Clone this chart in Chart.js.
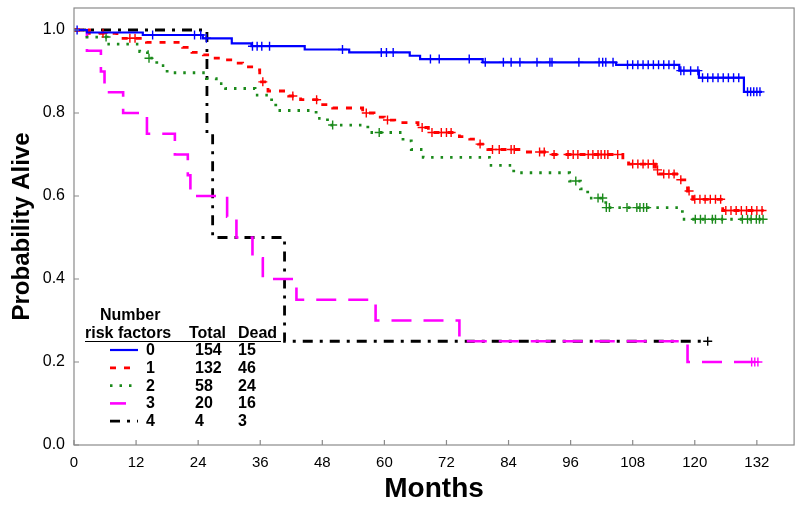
<!DOCTYPE html>
<html>
<head>
<meta charset="utf-8">
<script src="https://cdn.jsdelivr.net/npm/chart.js@4"></script>
<style>
html, body { margin: 0; padding: 0; background: #fff; }
#wrap { width: 800px; height: 508px; }
</style>
</head>
<body>
<div id="wrap"><canvas id="km" width="800" height="508"></canvas></div>
<script>
// legend table
const groups = ['0', '1', '2', '3', '4'];
const totals = [154, 132, 58, 20, 4];
const deaths = [15, 46, 24, 16, 3];

const xTicks = [0, 12, 24, 36, 48, 60, 72, 84, 96, 108, 120, 132];
const yTicks = [0, 0.2, 0.4, 0.6, 0.8, 1.0];

// 0 risk factors
const times0 = [0, 2.5, 13.3, 24.9, 30.5, 34.3, 44.6, 53.2, 64.9, 66.9, 79, 104.8, 117, 120.8, 129.5];
const surv0 = [1.0, 0.994, 0.988, 0.980, 0.968, 0.961, 0.953, 0.946, 0.938, 0.930, 0.922, 0.916, 0.902, 0.885, 0.851];
const end0 = 133;
const censor0 = [0.6, 15.2, 23.3, 24.5, 25.6, 34.5, 35.4, 36.3, 37.8, 51.9, 59.4, 60.4, 61.7, 68.9, 70.6, 76.4,
  79.5, 83, 84.5, 86.2, 89.5, 92, 92.4, 97.6, 101.5, 102.2, 102.8, 104.2, 107, 108, 109, 110, 111, 112, 113,
  114, 115, 116, 117.3, 117.9, 119.2, 120.6, 121.5, 122.5, 123.5, 124.5, 125.5, 126.5, 127.5, 128.5, 130.2,
  130.8, 131.4, 132, 132.6];

// 1 risk factor
const times1 = [0, 3, 8.3, 14, 21, 22.8, 25, 26.8, 28.7, 30.7, 32.6, 34.9, 35.9, 37.5, 41.5, 43.8, 47.8, 50,
  55.8, 58, 60, 62, 66.5, 68.5, 74.5, 76.5, 78.2, 80, 86, 92.3, 106.1, 107.2, 112.4, 113, 116.9, 118.6, 119.6, 125.4];
const surv1 = [1.0, 0.992, 0.980, 0.970, 0.958, 0.946, 0.940, 0.932, 0.928, 0.920, 0.911, 0.904, 0.875, 0.853,
  0.841, 0.832, 0.820, 0.812, 0.800, 0.790, 0.783, 0.777, 0.765, 0.753, 0.743, 0.737, 0.725, 0.712, 0.706, 0.700,
  0.687, 0.677, 0.663, 0.653, 0.639, 0.612, 0.592, 0.565];
const end1 = 133.3;
const censor1 = [5.6, 10.8, 11.8, 36.5, 42.3, 46.9, 56.5, 60.6, 67.3, 69.2, 71, 72, 72.9, 78.5, 80.9, 82.2,
  84.5, 85.1, 90, 90.9, 92.8, 95.5, 96.5, 97.4, 99.4, 100.3, 101.3, 101.9, 102.6, 103.2, 105.1, 108, 109, 110,
  111, 112, 112.8, 114, 115, 116, 117.3, 118.9, 120, 121, 122, 123, 124, 125, 126, 127, 128, 129, 130, 131, 132, 133];

// 2 risk factors
const times2 = [0, 2.5, 6.4, 12.7, 14.2, 16, 18, 25.6, 27.5, 29.3, 35, 38.2, 39, 46.8, 49, 56.8, 63.6, 65.2,
  67.5, 80.3, 85, 95.8, 97.9, 99.3, 102.8, 117.6];
const surv2 = [1.0, 0.983, 0.966, 0.948, 0.932, 0.914, 0.897, 0.883, 0.871, 0.859, 0.843, 0.824, 0.806, 0.787,
  0.771, 0.753, 0.733, 0.712, 0.693, 0.674, 0.656, 0.636, 0.617, 0.595, 0.572, 0.544];
const end2 = 133.3;
const censor2 = [6.2, 14.5, 50, 59, 97, 101.3, 102.2, 102.9, 103.5, 106.9, 108.8, 109.4, 110.1, 110.7, 120.1,
  121.1, 122, 123.4, 124, 125.3, 129.2, 130.2, 130.9, 131.9, 132.5, 133.2];

// 3 risk factors
const times3 = [0, 2.5, 5.2, 5.9, 9.5, 14.1, 19.5, 22, 22.5, 29.6, 31.4, 34.5, 36.5, 43, 58.3, 74.5, 118.6];
const surv3 = [1.0, 0.95, 0.90, 0.85, 0.80, 0.75, 0.70, 0.65, 0.60, 0.55, 0.50, 0.45, 0.40, 0.35, 0.30, 0.25, 0.20];
const end3 = 132.6;
const censor3 = [131, 131.6, 132.2];

// 4 risk factors
const times4 = [0, 25.7, 26.8, 40.7];
const surv4 = [1.0, 0.75, 0.50, 0.25];
const end4 = 122.5;
const censor4 = [122.5];

const colors = ['#0000ff', '#ff0000', '#1b8a1b', '#ff00ff', '#000000'];
const dashes = [[], [6, 8], [2.5, 7], [20, 12], [10, 7, 3, 7]];
const widths = [2.2, 2.8, 2.8, 2.6, 2.8];

const FONT = "'Liberation Sans', Arial, sans-serif";

function survAt(times, surv, t) {
    let v = surv[0];
    for (let i = 0; i < times.length; i++) {
        if (times[i] <= t) v = surv[i];
    }
    return v;
}

function curve(times, surv, end) {
    const pts = times.map((t, i) => ({ x: t, y: surv[i] }));
    pts.push({ x: end, y: surv[surv.length - 1] });
    return pts;
}

const allTimes = [times0, times1, times2, times3, times4];
const allSurv = [surv0, surv1, surv2, surv3, surv4];
const allEnds = [end0, end1, end2, end3, end4];
const allCensor = [censor0, censor1, censor2, censor3, censor4];

const datasets = [];
groups.forEach((g, i) => {
    datasets.push({
        label: g,
        data: curve(allTimes[i], allSurv[i], allEnds[i]),
        stepped: 'before',
        borderColor: colors[i],
        borderWidth: widths[i],
        borderDash: dashes[i],
        pointRadius: 0,
        fill: false,
        order: i
    });
    datasets.push({
        label: g + ' censored',
        data: allCensor[i].map(c => ({ x: c, y: survAt(allTimes[i], allSurv[i], c) })),
        showLine: false,
        pointStyle: 'cross',
        pointRadius: 4.5,
        borderColor: colors[i],
        backgroundColor: colors[i],
        pointBorderWidth: 1.4,
        order: i
    });
});

// gray frame + inward tick marks
const framePlugin = {
    id: 'frame',
    afterDraw(chart) {
        const { ctx, chartArea: a, scales } = chart;
        ctx.save();
        ctx.strokeStyle = '#8a8a8a';
        ctx.lineWidth = 1.2;
        ctx.strokeRect(a.left, a.top, a.right - a.left, a.bottom - a.top);
        ctx.beginPath();
        xTicks.forEach(v => {
            const px = scales.x.getPixelForValue(v);
            ctx.moveTo(px, a.bottom);
            ctx.lineTo(px, a.bottom - 5);
        });
        yTicks.forEach(v => {
            const py = scales.y.getPixelForValue(v);
            ctx.moveTo(a.left, py);
            ctx.lineTo(a.left + 5, py);
        });
        ctx.stroke();
        ctx.restore();
    }
};

// legend table drawn inside plot
const tablePlugin = {
    id: 'table',
    afterDraw(chart) {
        const { ctx } = chart;
        ctx.save();
        ctx.fillStyle = '#000';
        ctx.font = 'bold 16px ' + FONT;
        ctx.textBaseline = 'alphabetic';
        ctx.fillText('Number', 100, 320);
        ctx.fillText('risk factors', 85, 338);
        ctx.fillText('Total', 189, 338);
        ctx.fillText('Dead', 238, 338);
        ctx.strokeStyle = '#000';
        ctx.lineWidth = 1.2;
        ctx.beginPath();
        ctx.moveTo(85, 341.5);
        ctx.lineTo(281, 341.5);
        ctx.stroke();
        groups.forEach((g, i) => {
            const base = 355 + i * 17.8;
            ctx.fillText(g, 146, base);
            ctx.fillText(String(totals[i]), 195, base);
            ctx.fillText(String(deaths[i]), 238, base);
            ctx.save();
            ctx.strokeStyle = colors[i];
            ctx.lineWidth = widths[i];
            ctx.setLineDash(dashes[i]);
            ctx.beginPath();
            ctx.moveTo(110, base - 5);
            ctx.lineTo(i === 3 ? 126 : 138, base - 5);
            ctx.stroke();
            ctx.restore();
        });
        ctx.restore();
    }
};

new Chart(document.getElementById('km'), {
    type: 'line',
    data: { datasets },
    options: {
        responsive: false,
        animation: false,
        devicePixelRatio: 1,
        layout: { padding: { top: 8, right: 3, left: 0, bottom: 0 } },
        plugins: { legend: { display: false }, tooltip: { enabled: false } },
        scales: {
            x: {
                type: 'linear',
                min: 0,
                max: 139.2,
                afterFit: s => { s.height = 63; s.paddingLeft = 0; s.paddingRight = 0; },
                afterBuildTicks: s => { s.ticks = xTicks.map(v => ({ value: v })); },
                grid: { display: false, drawTicks: false, tickLength: 0 },
                border: { display: false },
                ticks: { color: '#000', font: { size: 15, family: FONT }, padding: 9, maxRotation: 0, autoSkip: false },
                title: { display: true, text: 'Months', color: '#000', font: { size: 28, weight: 'bold', family: FONT }, padding: { top: 0, bottom: 2 } }
            },
            y: {
                type: 'linear',
                min: 0,
                max: 1.053,
                afterFit: s => { s.width = 74; s.paddingTop = 0; s.paddingBottom = 0; },
                afterBuildTicks: s => { s.ticks = yTicks.map(v => ({ value: v })); },
                grid: { display: false, drawTicks: false, tickLength: 0 },
                border: { display: false },
                ticks: { color: '#000', font: { size: 16, family: FONT }, padding: 9, callback: v => v.toFixed(1) },
                title: { display: true, text: 'Probability Alive', color: '#000', font: { size: 24, weight: 'bold', family: FONT }, padding: { top: 8, bottom: 0 } }
            }
        }
    },
    plugins: [framePlugin, tablePlugin]
});
</script>
</body>
</html>
